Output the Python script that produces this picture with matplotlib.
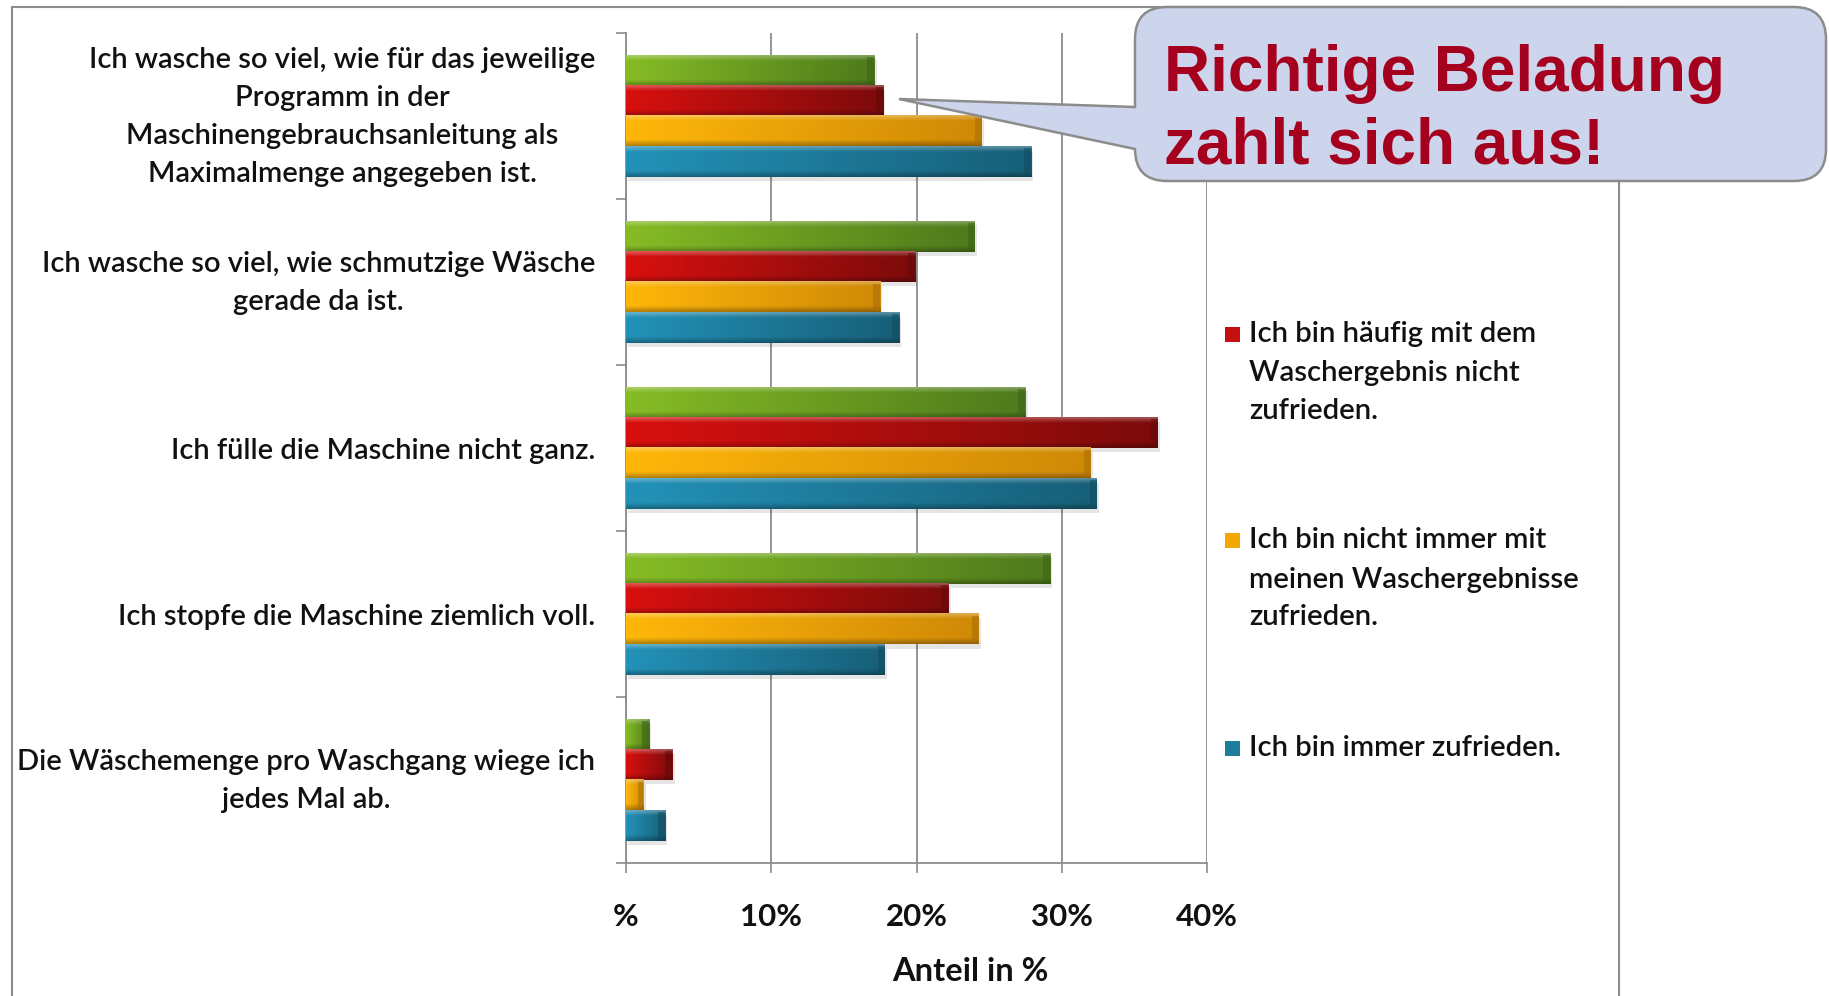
import numpy as np
import matplotlib
matplotlib.use("Agg")
import matplotlib.pyplot as plt
import matplotlib.colors as mcolors
import matplotlib.transforms as mtransforms
from matplotlib.path import Path
from matplotlib.patches import PathPatch, Rectangle
from matplotlib.lines import Line2D

# ---------------- data ----------------
categories = [
    "Ich wasche so viel, wie für das jeweilige\nProgramm in der\nMaschinengebrauchsanleitung als\nMaximalmenge angegeben ist.",
    "Ich wasche so viel, wie schmutzige Wäsche\ngerade da ist.",
    "Ich fülle die Maschine nicht ganz.",
    "Ich stopfe die Maschine ziemlich voll.",
    "Die Wäschemenge pro Waschgang wiege ich\njedes Mal ab.",
]
green_values = [17.1, 24.0, 27.5, 29.2, 1.6]
red_values = [17.7, 19.9, 36.6, 22.2, 3.2]
orange_values = [24.5, 17.5, 32.0, 24.3, 1.2]
teal_values = [27.9, 18.8, 32.4, 17.8, 2.7]

legend_labels = [
    ["Ich bin häufig mit dem", "Waschergebnis nicht", "zufrieden."],
    ["Ich bin nicht immer mit", "meinen Waschergebnisse", "zufrieden."],
    ["Ich bin immer zufrieden."],
]
x_ticks = [0, 10, 20, 30, 40]
x_tick_labels = ["%", "10%", "20%", "30%", "40%"]
x_label = "Anteil in %"
callout_lines = ["Richtige Beladung", "zahlt sich aus!"]

# ---------------- styles ----------------
W, H = 1829, 996
FONT = "Lato"
GRAY = "#8c8c8c"
series_colors = [
    ("#86bc25", "#4e7a1c"),  # green
    ("#d8100f", "#7c0b0b"),  # red
    ("#ffb70a", "#cf8906"),  # orange
    ("#2392b8", "#175f78"),  # teal
]
legend_colors = ["#c41010", "#f2a800", "#1e7d9c"]


def fx(px):
    return px / W


def fy(py):
    return 1 - py / H


def bevel(cl, cr, nx=256, ny=40):
    cl = np.array(mcolors.to_rgb(cl))
    cr = np.array(mcolors.to_rgb(cr))
    t = np.linspace(0, 1, nx)[None, :, None]
    base = cl * (1 - t) + cr * t
    img = np.repeat(base, ny, axis=0)
    v = np.linspace(0, 1, ny)[:, None, None]
    top = np.clip(1 - v / 0.18, 0, 1)
    img = img + (1 - img) * 0.30 * top
    bot = np.clip((v - 0.80) / 0.20, 0, 1)
    img = img * (1 - 0.30 * bot)
    return np.clip(img, 0, 1)


fig = plt.figure(figsize=(W / 100, H / 100), dpi=100)
fig.patch.set_facecolor("white")

ax = fig.add_axes([fx(626), fy(863), fx(1207) - fx(626), fy(33) - fy(863)])

h = 0.183
offsets = [-1.5, -0.5, 0.5, 1.5]
all_values = [green_values, red_values, orange_values, teal_values]
y = np.arange(len(categories))
px_per_unit = (1207 - 626) / 40.0

for k, vals in enumerate(all_values):
    cl, cr = series_colors[k]
    ys = y + offsets[k] * h
    bars = ax.barh(ys, vals, height=h, color=cl, linewidth=0, zorder=3)
    for b in bars:
        x0, y0, w, hh = b.get_x(), b.get_y(), b.get_width(), b.get_height()
        ax.add_patch(Rectangle((x0 + 0.15, y0 + 0.025), w, hh, color="#000000",
                               alpha=0.10, lw=0, zorder=2))
        ax.imshow(bevel(cl, cr), extent=[x0, x0 + w, y0 + hh, y0], aspect="auto",
                  interpolation="bilinear", zorder=4)
        cap = min(7.0 / px_per_unit, w * 0.3)
        dark = np.array(mcolors.to_rgb(cr)) * 0.8
        ax.add_patch(Rectangle((x0 + w - cap, y0 + hh * 0.06), cap, hh * 0.88,
                               color=dark, alpha=0.55, lw=0, zorder=5))

ax.set_xlim(0, 40)
ax.set_ylim(len(categories) - 0.5, -0.5)

for s in ["top", "right"]:
    ax.spines[s].set_visible(False)
for s in ["left", "bottom"]:
    ax.spines[s].set_color(GRAY)
    ax.spines[s].set_linewidth(1.3)
ax.set_axisbelow(True)
ax.grid(axis="x", color=GRAY, lw=1.3, zorder=0)
ax.grid(axis="y", visible=False)

ax.set_yticks(y)
ax.set_yticklabels(categories, fontsize=21, family=FONT, fontweight="semibold",
                   color="#111111", linespacing=1.58)
ax.tick_params(axis="y", which="major", length=0, pad=22)
ax.set_yticks(np.arange(-0.5, len(categories), 1.0), minor=True)
ax.tick_params(axis="y", which="minor", length=7, width=1.2, color=GRAY,
               direction="out")

ax.set_xticks(x_ticks)
ax.set_xticklabels(x_tick_labels, fontsize=22.5, family=FONT, fontweight="bold",
                   color="#111111")
ax.tick_params(axis="x", length=7, width=1.2, color=GRAY, direction="out", pad=22)

shift_up = mtransforms.ScaledTranslation(0, 5.5 / 72, fig.dpi_scale_trans)
for t in ax.get_yticklabels():
    t.set_multialignment("center")
    if "\n" in t.get_text():
        t.set_transform(t.get_transform() + shift_up)

fig.text(fx(970), fy(971), x_label, ha="center", va="center", fontsize=23.5,
         family=FONT, fontweight="bold", color="#111111")

# legend (manual)
legend_line_y = [[334, 373, 411], [540, 580, 617], [748]]
for k, lines in enumerate(legend_labels):
    ys_px = legend_line_y[k]
    fig.add_artist(Rectangle((fx(1225), fy(ys_px[0] + 8)), fx(15), 15 / H,
                             transform=fig.transFigure, color=legend_colors[k],
                             lw=0))
    for line, ypx in zip(lines, ys_px):
        fig.text(fx(1249), fy(ypx), line, ha="left", va="center", fontsize=21.1,
                 family=FONT, fontweight="semibold", color="#111111")

# outer frame
for (xa, ya, xb, yb) in [(12, 7, 12, 996), (12, 7, 1619, 7), (1619, 7, 1619, 996)]:
    fig.add_artist(Line2D([fx(xa), fx(xb)], [fy(ya), fy(yb)], transform=fig.transFigure,
                          color=GRAY, lw=1.5, zorder=1))

# callout
x0, y0, x1, y1, r = 1135, 7, 1826, 181, 32
tip = (899, 99)
pa, pb = 107, 149
pts = [
    ((x0 + r, y0), Path.MOVETO),
    ((x1 - r, y0), Path.LINETO),
    ((x1, y0), Path.CURVE3), ((x1, y0 + r), Path.CURVE3),
    ((x1, y1 - r), Path.LINETO),
    ((x1, y1), Path.CURVE3), ((x1 - r, y1), Path.CURVE3),
    ((x0 + r, y1), Path.LINETO),
    ((x0, y1), Path.CURVE3), ((x0, y1 - r), Path.CURVE3),
    ((x0, pb), Path.LINETO),
    (tip, Path.LINETO),
    ((x0, pa), Path.LINETO),
    ((x0, y0 + r), Path.LINETO),
    ((x0, y0), Path.CURVE3), ((x0 + r, y0), Path.CURVE3),
    ((x0 + r, y0), Path.CLOSEPOLY),
]
verts = [(fx(p[0]), fy(p[1])) for p, c in pts]
codes = [c for p, c in pts]
fig.add_artist(PathPatch(Path(verts, codes), transform=fig.transFigure,
                         facecolor="#cdd5ec", edgecolor=GRAY, lw=1.8, zorder=10))
for line, base in zip(callout_lines, [91, 163]):
    fig.text(fx(1164), fy(base), line, ha="left", va="baseline", fontsize=46,
             family="Liberation Sans", fontweight="bold", color="#a6001f", zorder=11)

fig.savefig("out.png", dpi=100)
